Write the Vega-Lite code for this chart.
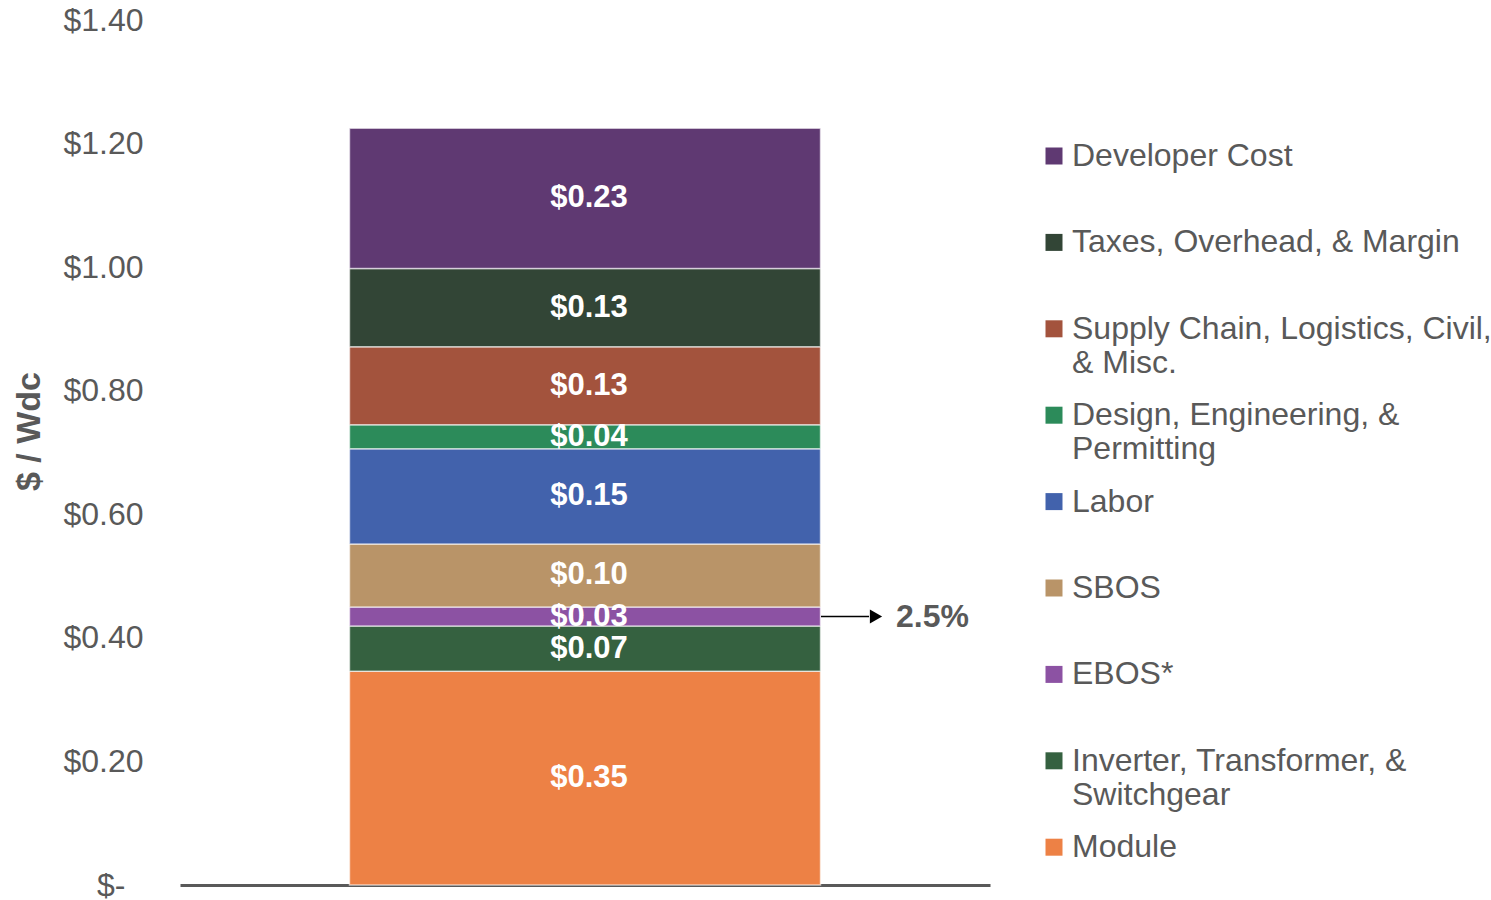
{
  "$schema": "https://vega.github.io/schema/vega-lite/v6.json",
  "width": 810,
  "height": 865,
  "autosize": {"type": "none"},
  "padding": {"left": 180, "top": 20, "right": 501, "bottom": 15},
  "background": "white",
  "config": {
    "view": {"stroke": null},
    "font": "Liberation Sans",
    "axis": {"grid": false}
  },
  "data": {
    "values": [
      {"cat": "Total", "name": "Module", "value": 0.346, "order": 1, "note": null},
      {"cat": "Total", "name": "Inverter, Transformer, & Switchgear", "value": 0.073, "order": 2, "note": null},
      {"cat": "Total", "name": "EBOS*", "value": 0.031, "order": 3, "note": "2.5%"},
      {"cat": "Total", "name": "SBOS", "value": 0.102, "order": 4, "note": null},
      {"cat": "Total", "name": "Labor", "value": 0.154, "order": 5, "note": null},
      {"cat": "Total", "name": "Design, Engineering, & Permitting", "value": 0.039, "order": 6, "note": null},
      {"cat": "Total", "name": "Supply Chain, Logistics, Civil, & Misc.", "value": 0.126, "order": 7, "note": null},
      {"cat": "Total", "name": "Taxes, Overhead, & Margin", "value": 0.127, "order": 8, "note": null},
      {"cat": "Total", "name": "Developer Cost", "value": 0.227, "order": 9, "note": null}
    ]
  },
  "transform": [
    {"stack": "value", "groupby": ["cat"], "sort": [{"field": "order", "order": "ascending"}], "as": ["y0", "y1"]}
  ],
  "layer": [
    {
      "mark": {"type": "bar", "size": 471, "stroke": "#ffffff", "strokeWidth": 1.5, "strokeOpacity": 0.6},
      "encoding": {
        "x": {
          "field": "cat", "type": "nominal",
          "axis": {"labels": false, "ticks": false, "title": null, "domainColor": "#595959", "domainWidth": 3}
        },
        "y": {
          "field": "y0", "type": "quantitative",
          "scale": {"domain": [0, 1.4], "nice": false},
          "title": "$ / Wdc",
          "axis": {
            "values": [0, 0.2, 0.4, 0.6, 0.8, 1.0, 1.2, 1.4],
            "domain": false, "ticks": false, "tickSize": 0,
            "labelPadding": {"condition": {"test": "datum.value == 0", "value": 55}, "value": 37},
            "labelFontSize": 32, "labelColor": "#595959",
            "labelExpr": "datum.value == 0 ? '$-' : '$' + format(datum.value, '.2f')",
            "titleFontSize": 34, "titleFontWeight": "bold", "titleColor": "#595959",
            "titleX": -141, "titleY": 411, "titleBaseline": "alphabetic", "titleAngle": -90, "titleAlign": "center"
          }
        },
        "y2": {"field": "y1"},
        "color": {
          "field": "name", "type": "nominal",
          "scale": {
            "domain": ["Developer Cost", "Taxes, Overhead, & Margin", "Supply Chain, Logistics, Civil, & Misc.", "Design, Engineering, & Permitting", "Labor", "SBOS", "EBOS*", "Inverter, Transformer, & Switchgear", "Module"],
            "range": ["#5F3972", "#324536", "#A3533D", "#2C8B5A", "#4262AC", "#B99468", "#8C52A3", "#356140", "#ED8145"]
          },
          "legend": {
            "title": null,
            "orient": "none",
            "legendX": 858,
            "legendY": 120,
            "padding": 0,
            "symbolType": "square",
            "symbolSize": 289,
            "symbolStrokeWidth": 0,
            "labelFontSize": 32,
            "labelColor": "#595959",
            "labelBaseline": "middle",
            "labelOffset": 2,
            "labelLimit": 600,
            "rowPadding": 20.4,
            "gridAlign": "all",
            "labelExpr": "datum.label == 'Supply Chain, Logistics, Civil, & Misc.' ? ['Supply Chain, Logistics, Civil,', '& Misc.'] : datum.label == 'Design, Engineering, & Permitting' ? ['Design, Engineering, &', 'Permitting'] : datum.label == 'Inverter, Transformer, & Switchgear' ? ['Inverter, Transformer, &', 'Switchgear'] : datum.label"
          }
        }
      }
    },
    {
      "transform": [{"fold": ["y0", "y1"], "as": ["k", "v"]}],
      "mark": {"type": "text", "color": "#ffffff", "fontSize": 31, "fontWeight": "bold", "baseline": "middle", "align": "center", "dx": 4},
      "encoding": {
        "x": {"field": "cat", "type": "nominal"},
        "y": {"aggregate": "mean", "field": "v", "type": "quantitative", "title": "$ / Wdc"},
        "detail": {"field": "name", "type": "nominal"},
        "text": {"field": "value", "type": "quantitative", "format": "$.2f"}
      }
    },
    {
      "transform": [{"filter": "datum.note != null"}, {"fold": ["y0", "y1"], "as": ["k", "v"]}],
      "layer": [
        {
          "mark": {"type": "rule", "color": "#000000", "strokeWidth": 1.5, "xOffset": 236, "x2Offset": 284},
          "encoding": {
            "x": {"field": "cat", "type": "nominal"},
            "x2": {"field": "cat"},
            "y": {"aggregate": "mean", "field": "v", "type": "quantitative", "title": "$ / Wdc"}
          }
        },
        {
          "mark": {"type": "point", "shape": "triangle-right", "filled": true, "color": "#000000", "opacity": 1, "size": 200, "xOffset": 291},
          "encoding": {
            "x": {"field": "cat", "type": "nominal"},
            "y": {"aggregate": "mean", "field": "v", "type": "quantitative", "title": "$ / Wdc"}
          }
        },
        {
          "mark": {"type": "text", "color": "#595959", "fontSize": 32, "fontWeight": "bold", "align": "left", "baseline": "middle", "xOffset": 311},
          "encoding": {
            "x": {"field": "cat", "type": "nominal"},
            "y": {"aggregate": "mean", "field": "v", "type": "quantitative", "title": "$ / Wdc"},
            "detail": {"field": "note", "type": "nominal"},
            "text": {"field": "note", "type": "nominal"}
          }
        }
      ]
    }
  ]
}
